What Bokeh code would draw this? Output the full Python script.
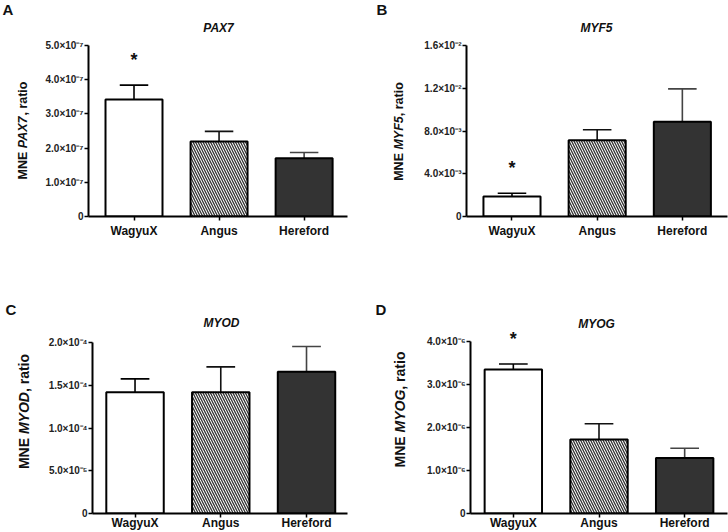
import math
from bokeh.plotting import figure
from bokeh.models import Range1d, FixedTicker, Label, ColumnDataSource, CustomJSTickFormatter
from bokeh.layouts import column, row
from bokeh.embed import file_html
from bokeh.resources import INLINE

# ---------------- data ----------------
categories = ["WagyuX", "Angus", "Hereford"]

pax7_mean = [3.42e-7, 2.19e-7, 1.70e-7]
pax7_sem = [0.42e-7, 0.30e-7, 0.17e-7]
pax7_ticks = [0, 1e-7, 2e-7, 3e-7, 4e-7, 5e-7]
pax7_tick_labels = ["0", "1.0×10⁻⁷", "2.0×10⁻⁷", "3.0×10⁻⁷", "4.0×10⁻⁷", "5.0×10⁻⁷"]

myf5_mean = [1.86e-3, 7.13e-3, 8.87e-3]
myf5_sem = [0.31e-3, 0.99e-3, 3.07e-3]
myf5_ticks = [0, 4e-3, 8e-3, 1.2e-2, 1.6e-2]
myf5_tick_labels = ["0", "4.0×10⁻³", "8.0×10⁻³", "1.2×10⁻²", "1.6×10⁻²"]

myod_mean = [1.418e-4, 1.418e-4, 1.657e-4]
myod_sem = [0.157e-4, 0.297e-4, 0.296e-4]
myod_ticks = [0, 5e-5, 1e-4, 1.5e-4, 2e-4]
myod_tick_labels = ["0", "5.0×10⁻⁵", "1.0×10⁻⁴", "1.5×10⁻⁴", "2.0×10⁻⁴"]

myog_mean = [3.347e-6, 1.72e-6, 1.293e-6]
myog_sem = [0.13e-6, 0.366e-6, 0.224e-6]
myog_ticks = [0, 1e-6, 2e-6, 3e-6, 4e-6]
myog_tick_labels = ["0", "1.0×10⁻⁶", "2.0×10⁻⁶", "3.0×10⁻⁶", "4.0×10⁻⁶"]

# significance marks (True = asterisk over bar)
pax7_sig = [True, False, False]
myf5_sig = [True, False, False]
myod_sig = [False, False, False]
myog_sig = [True, False, False]

# ---------------- style ----------------
FONT = "Liberation Sans"
bar_fill = ["white", "white", "#333333"]
bar_hatch = [" ", "\\", " "]
err_color = ["black", "#111111", "#444444"]
BAR_W = 0.67

# Arial-bold advance widths (per 1000 em) for label layout
CW = {"M": 833, "N": 722, "E": 667, " ": 278, "P": 667, "A": 722, "X": 667, "7": 556,
      "Y": 667, "F": 611, "5": 556, "O": 778, "D": 722, "G": 778, ",": 278, "r": 389,
      "a": 556, "t": 333, "i": 278, "o": 611}


def tw(s, size):
    return sum(CW.get(c, 600) for c in s) * size / 1000.0


def make_panel(letter, gene, means, sems, ticks, tick_labels, sig, g):
    W, H = 364, 266
    fbot = H - g["bottom"]
    # frame may reach above the top tick (axis bounded to the tick range)
    y_end = ticks[-1] * (fbot - g["frame_top"]) / (fbot - g["axis_top"])
    p = figure(width=W, height=H, output_backend="svg", toolbar_location=None,
               x_range=Range1d(*g["xr"]), y_range=Range1d(ticks[0], y_end),
               min_border_left=g["left"], min_border_right=g["right"],
               min_border_top=g["frame_top"], min_border_bottom=g["bottom"])
    p.outline_line_color = None
    p.grid.visible = False
    p.background_fill_color = "white"
    p.border_fill_color = "white"

    xs = [i + 1 for i in range(len(categories))]
    tops = [m + s for m, s in zip(means, sems)]
    src = ColumnDataSource(dict(x=xs, m=means, top=tops,
                                cl=[x - BAR_W / 4 for x in xs], cr=[x + BAR_W / 4 for x in xs],
                                fill=bar_fill, hatch=bar_hatch, ec=err_color))
    p.segment(x0="x", y0="m", x1="x", y1="top", source=src, line_color="ec", line_width=1.6)
    p.segment(x0="cl", y0="top", x1="cr", y1="top", source=src, line_color="ec", line_width=1.6)
    p.vbar(x="x", top="m", bottom=0, width=BAR_W, source=src, fill_color="fill",
           line_color="black", line_width=2, hatch_pattern="hatch", hatch_color="#333333",
           hatch_scale=5, hatch_weight=1.3)

    # axes
    yax = p.yaxis[0]
    yax.ticker = FixedTicker(ticks=ticks)
    yax.bounds = (ticks[0], ticks[-1])
    yax.formatter = CustomJSTickFormatter(args=dict(tv=ticks, lb=tick_labels), code="""
        let best = 0;
        for (let i = 0; i < tv.length; i++) {
            if (Math.abs(tv[i] - tick) < Math.abs(tv[best] - tick)) best = i;
        }
        return lb[best];
    """)
    yax.axis_line_width = 2
    yax.major_tick_line_width = 1.5
    yax.major_tick_out = 4
    yax.major_tick_in = 0
    yax.minor_tick_line_color = None
    yax.major_label_standoff = 1
    yax.major_label_text_font = FONT
    yax.major_label_text_font_style = "bold"
    yax.major_label_text_font_size = "10px"
    yax.major_label_text_color = "#222222"

    xax = p.xaxis[0]
    xax.ticker = FixedTicker(ticks=xs)
    xax.major_label_overrides = {x: c for x, c in zip(xs, categories)}
    xax.axis_line_width = 2
    xax.major_tick_line_width = 1.5
    xax.major_tick_out = 4
    xax.major_tick_in = 0
    xax.minor_tick_line_color = None
    xax.major_label_standoff = g["xstand"]
    xax.major_label_text_font = FONT
    xax.major_label_text_font_style = "bold"
    xax.major_label_text_font_size = "12px"
    xax.major_label_text_color = "#111111"

    # asterisks (data units, inside frame)
    for x, t, s in zip(xs, tops, sig):
        if s:
            p.add_layout(Label(x=x, y=t, y_offset=25, text="*", text_align="center",
                               text_baseline="alphabetic", text_font=FONT,
                               text_font_style="bold", text_font_size="18px",
                               text_color="#111111"))

    def canvas_label(side, **kw):
        p.add_layout(Label(x_units="canvas", y_units="canvas", text_font=FONT,
                           text_color="#111111", **kw), side)

    # title (gene name, italic) and panel letter
    tx, ty = g["title"]
    canvas_label("above", x=tx, y=ty, text=gene, text_align="center", text_baseline="middle",
                 text_font_style="bold italic", text_font_size="12px")
    lx, ly = g["letter"]
    canvas_label("above", x=lx, y=ly, text=letter, text_align="left", text_baseline="middle",
                 text_font_style="bold", text_font_size="15px")

    # y-axis label: "MNE " + italic gene + ", ratio" (rotated, bottom to top)
    fs = g["ylab_size"]
    parts = [("MNE", "bold"), (gene, "bold italic"), (", ratio", "bold")]
    widths = [tw("MNE", fs), tw(gene, fs), tw(", ratio", fs)]
    gap = tw(" ", fs)
    total = sum(widths) + gap
    cx, cy = g["ylab"]
    ybot = cy + total / 2
    offs = [0, widths[0] + gap, widths[0] + gap + widths[1]]
    for (txt, sty), o, side in zip(parts, offs, g["ylab_sides"]):
        canvas_label(side, x=cx, y=ybot - o, text=txt, angle=math.pi / 2, text_align="left",
                     text_baseline="middle", text_font_style=sty, text_font_size=f"{fs}px")
    return p


geomA = dict(left=88, right=17, frame_top=45, axis_top=45, bottom=50, xr=(0.465, 3.51),
             xstand=3, title=(218, 27), letter=(2, 9), ylab=(22, 130), ylab_size=12.5,
             ylab_sides=["left", "left", "right"])
geomB = dict(left=102, right=1, frame_top=45, axis_top=45, bottom=50, xr=(0.466, 3.53),
             xstand=3, title=(232, 27), letter=(12, 9), ylab=(34, 131), ylab_size=12.5,
             ylab_sides=["left", "left", "left"])
geomC = dict(left=92, right=17, frame_top=60, axis_top=76, bottom=19, xr=(0.504, 3.478),
             xstand=-2, title=(221, 56), letter=(5, 43), ylab=(23, 145), ylab_size=14,
             ylab_sides=["left", "left", "right"])
geomD = dict(left=106, right=1, frame_top=60, axis_top=75, bottom=19, xr=(0.5, 3.5),
             xstand=-2, title=(232, 57), letter=(11, 43), ylab=(35, 143), ylab_size=14,
             ylab_sides=["left", "left", "left"])

pA = make_panel("A", "PAX7", pax7_mean, pax7_sem, pax7_ticks, pax7_tick_labels, pax7_sig, geomA)
pB = make_panel("B", "MYF5", myf5_mean, myf5_sem, myf5_ticks, myf5_tick_labels, myf5_sig, geomB)
pC = make_panel("C", "MYOD", myod_mean, myod_sem, myod_ticks, myod_tick_labels, myod_sig, geomC)
pD = make_panel("D", "MYOG", myog_mean, myog_sem, myog_ticks, myog_tick_labels, myog_sig, geomD)

layout = column(row(pA, pB, spacing=0), row(pC, pD, spacing=0), spacing=0)

open("out.html", "w").write(file_html(layout, INLINE))
